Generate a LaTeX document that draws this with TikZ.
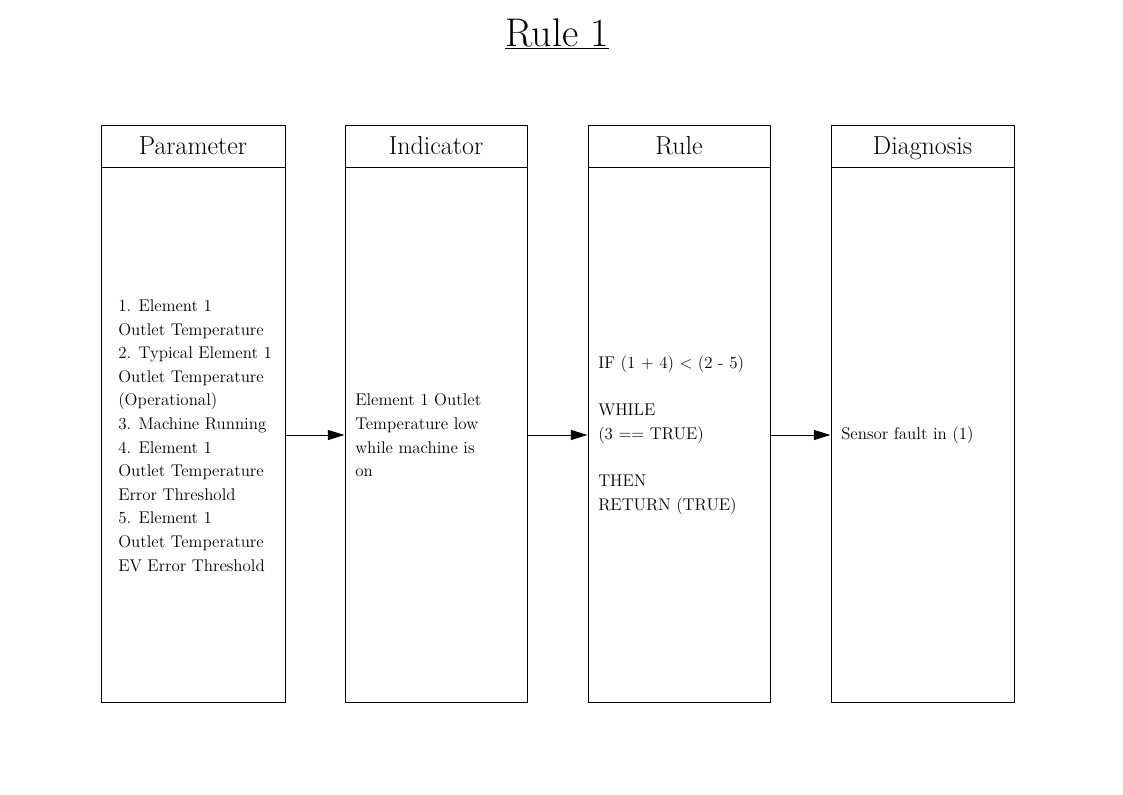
\documentclass[tikz,border=0pt]{standalone}
\usetikzlibrary{arrows.meta}
\begin{document}
\begin{tikzpicture}[x=0.75pt,y=-0.75pt,
  col/.style={draw,line width=0.75pt,minimum height=432.75pt,inner sep=0pt},
  head/.style={draw,line width=0.75pt,minimum height=31.5pt,anchor=north,inner sep=0pt,text height=15pt,text depth=3pt,font=\fontsize{19.5}{22}\selectfont},
  body/.style={align=left,anchor=west,inner sep=0pt,font=\fontsize{12.7}{17.7}\selectfont},
  conn/.style={line width=0.75pt,-{Triangle[length=12.5pt,width=7.5pt]}}]
\useasboundingbox (0,0) rectangle (1123,794);
\node[font=\fontsize{30}{33}\selectfont] (title) at (557,34) {\underline{Rule 1}};
% columns
\node[col,minimum width=138pt] (pbox) at (193,413.5) {};
\node[col,minimum width=136.5pt] (ibox) at (436,413.5) {};
\node[col,minimum width=136.5pt] (rbox) at (679,413.5) {};
\node[col,minimum width=137.25pt] (dbox) at (922.5,413.5) {};
\node[head,minimum width=138pt] (phead) at (pbox.north) {Parameter};
\node[head,minimum width=136.5pt] (ihead) at (ibox.north) {Indicator};
\node[head,minimum width=136.5pt] (rhead) at (rbox.north) {Rule};
\node[head,minimum width=137.25pt] (dhead) at (dbox.north) {Diagnosis};
% texts
\node[body] (ptxt) at (118,435.5) {1. Element 1\\Outlet Temperature\\2. Typical Element 1\\Outlet Temperature\\(Operational)\\3. Machine Running\\4. Element 1\\Outlet Temperature\\Error Threshold\\5. Element 1\\Outlet Temperature\\EV Error Threshold};
\node[body] (itxt) at (355,435.5) {Element 1 Outlet\\Temperature low\\while machine is\\on};
\node[body] (rtxt) at (598,435) {IF (1 + 4) < (2 - 5)\\\mbox{}\\WHILE\\(3 == TRUE)\\\mbox{}\\THEN\\RETURN (TRUE)};
\node[body] (dtxt) at (841,435) {Sensor fault in (1)};
% connectors
\draw[conn] (pbox.east |- 0,435) -- (ibox.west |- 0,435);
\draw[conn] (ibox.east |- 0,435) -- (rbox.west |- 0,435);
\draw[conn] (rbox.east |- 0,435) -- (dbox.west |- 0,435);
\end{tikzpicture}
\end{document}
